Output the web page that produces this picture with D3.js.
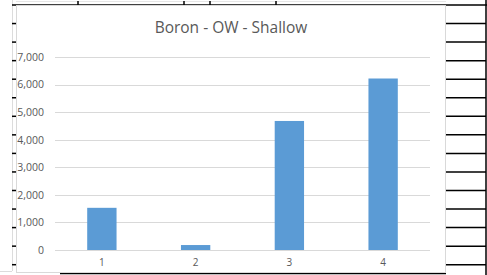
<!DOCTYPE html>
<html>
<head>
<meta charset="utf-8">
<script src="https://cdn.jsdelivr.net/npm/d3@7"></script>
<style>
  body { margin: 0; background: #fff; }
  text { font-family: "Open Sans", "Noto Sans", sans-serif; }
</style>
</head>
<body>
<script>
var width = 487;
var height = 275;

// chart data
var categories = ["1", "2", "3", "4"];
var values = [1530, 180, 4680, 6220];
var yTicks = [0, 1000, 2000, 3000, 4000, 5000, 6000, 7000];
var title = "Boron - OW - Shallow";

var svg = d3.select("body")
    .append("svg")
    .attr("width", width)
    .attr("height", height);

// spreadsheet bits around the chart
var rowY = d3.range(1, 15).map(function(k) { return 5 + k * 18.55; });
svg.append("line")
    .attr("x1", 12.5).attr("x2", 12.5).attr("y1", 0).attr("y2", 271)
    .attr("stroke", "#dcdcdc");
svg.append("line")
    .attr("x1", 0).attr("x2", 12).attr("y1", 271.5).attr("y2", 271.5)
    .attr("stroke", "#dcdcdc");
svg.append("line")
    .attr("x1", 16).attr("x2", 446).attr("y1", 1.5).attr("y2", 1.5)
    .attr("stroke", "#e6e6e6");
svg.append("line")
    .attr("x1", 12).attr("x2", 487).attr("y1", 5).attr("y2", 5)
    .attr("stroke", "#000").attr("stroke-width", 1.5);
svg.append("line")
    .attr("x1", 486).attr("x2", 486).attr("y1", 0).attr("y2", 275)
    .attr("stroke", "#000").attr("stroke-width", 1.5);
svg.selectAll(".rowR")
    .data(rowY)
    .enter().append("line")
    .attr("class", "rowR")
    .attr("x1", 446).attr("x2", 486)
    .attr("y1", function(d) { return d; }).attr("y2", function(d) { return d; })
    .attr("stroke", "#000").attr("stroke-width", 1.5);
svg.selectAll(".rowL")
    .data(rowY)
    .enter().append("line")
    .attr("class", "rowL")
    .attr("x1", 12).attr("x2", 16)
    .attr("y1", function(d) { return d; }).attr("y2", function(d) { return d; })
    .attr("stroke", "#000").attr("stroke-width", 1.5);
svg.selectAll(".colT")
    .data([78, 184, 210, 276])
    .enter().append("line")
    .attr("x1", function(d) { return d; }).attr("x2", function(d) { return d; })
    .attr("y1", 1).attr("y2", 5)
    .attr("stroke", "#000").attr("stroke-width", 1.5);
svg.append("line")
    .attr("x1", 60).attr("x2", 446).attr("y1", 273.5).attr("y2", 273.5)
    .attr("stroke", "#000").attr("stroke-width", 1.5);
svg.selectAll(".colB")
    .data([78, 217, 240, 313])
    .enter().append("line")
    .attr("x1", function(d) { return d; }).attr("x2", function(d) { return d; })
    .attr("y1", 270).attr("y2", 274)
    .attr("stroke", "#000").attr("stroke-width", 1.5);

// chart area
svg.append("rect")
    .attr("x", 16.5).attr("y", 5.5)
    .attr("width", 429).attr("height", 267)
    .attr("fill", "#fff")
    .attr("stroke", "#d9d9d9");

var margin = {left: 55, right: 430, top: 57, bottom: 250};

var x = d3.scaleBand()
    .domain(categories)
    .range([margin.left, margin.right])
    .paddingInner(0.687)
    .paddingOuter(0.3435);

var y = d3.scaleLinear()
    .domain([0, 7000])
    .range([margin.bottom, margin.top]);

// gridlines
svg.append("g")
    .selectAll("line")
    .data(yTicks)
    .enter().append("line")
    .attr("x1", margin.left).attr("x2", margin.right)
    .attr("y1", function(d) { return Math.round(y(d)) + 0.5; })
    .attr("y2", function(d) { return Math.round(y(d)) + 0.5; })
    .attr("stroke", "#d9d9d9");

// y labels
var yAxis = svg.append("g")
    .attr("transform", "translate(" + (margin.left - 11) + ",0)")
    .call(d3.axisLeft(y).tickValues(yTicks).tickSize(0).tickPadding(0)
        .tickFormat(d3.format(",")));
yAxis.select(".domain").remove();
yAxis.selectAll("text")
    .attr("fill", "#595959")
    .style("font-size", "10.5px");

// bars
svg.append("g")
    .selectAll("rect")
    .data(values)
    .enter().append("rect")
    .attr("x", function(d, i) { return x(categories[i]); })
    .attr("y", function(d) { return y(d); })
    .attr("width", x.bandwidth())
    .attr("height", function(d) { return y(0) - y(d); })
    .attr("fill", "#5b9bd5");

// x labels
var xAxis = svg.append("g")
    .attr("transform", "translate(0," + (margin.bottom + 9) + ")")
    .call(d3.axisBottom(x).tickSize(0).tickPadding(0));
xAxis.select(".domain").remove();
xAxis.selectAll("text")
    .attr("fill", "#595959")
    .style("font-size", "10px");

// title
svg.append("text")
    .attr("x", 231)
    .attr("y", 33)
    .attr("text-anchor", "middle")
    .attr("fill", "#595959")
    .style("font-size", "15.5px")
    .text(title);
</script>
</body>
</html>
